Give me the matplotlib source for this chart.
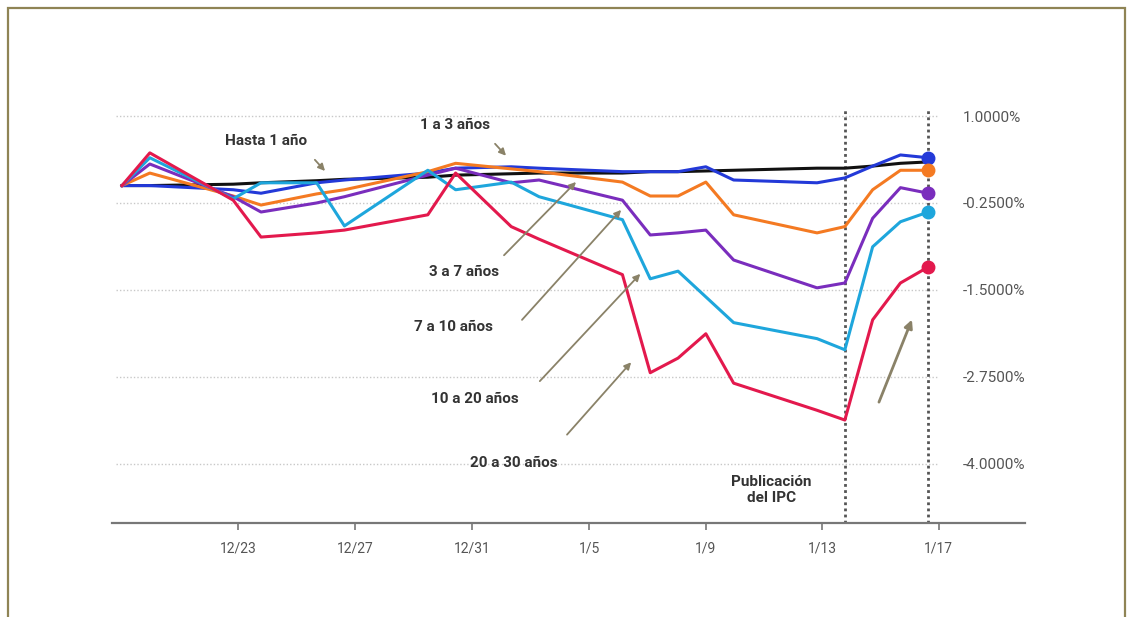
import matplotlib.pyplot as plt
import matplotlib.patches as patches

# dias habiles contados desde 12/19
dias = [0, 1, 4, 5, 7, 8, 11, 12, 14, 15, 18, 19, 20, 21, 22, 25, 26, 27, 28, 29]

hasta_1 = [0.0, 0.0, 0.02, 0.04, 0.07, 0.09, 0.12, 0.15, 0.17, 0.18,
           0.18, 0.20, 0.20, 0.21, 0.22, 0.25, 0.25, 0.28, 0.32, 0.34]
de_1_a_3 = [0.0, 0.0, -0.06, -0.11, 0.04, 0.08, 0.18, 0.25, 0.27, 0.25,
            0.20, 0.20, 0.20, 0.27, 0.08, 0.04, 0.11, 0.28, 0.44, 0.40]
de_3_a_7 = [0.0, 0.18, -0.15, -0.28, -0.12, -0.06, 0.20, 0.32, 0.24, 0.20,
            0.05, -0.15, -0.15, 0.05, -0.42, -0.68, -0.59, -0.06, 0.22, 0.22]
de_7_a_10 = [0.0, 0.31, -0.16, -0.38, -0.25, -0.16, 0.15, 0.25, 0.04, 0.08,
             -0.21, -0.71, -0.68, -0.64, -1.07, -1.47, -1.40, -0.47, -0.03, -0.11]
de_10_a_20 = [0.0, 0.40, -0.19, 0.04, 0.04, -0.58, 0.22, -0.06, 0.05, -0.16,
              -0.49, -1.34, -1.23, -1.60, -1.97, -2.20, -2.36, -0.88, -0.52, -0.38]
de_20_a_30 = [0.0, 0.47, -0.21, -0.74, -0.68, -0.64, -0.42, 0.18, -0.59, -0.77,
              -1.28, -2.69, -2.48, -2.13, -2.84, -3.23, -3.37, -1.93, -1.40, -1.17]

series = [hasta_1, de_1_a_3, de_3_a_7, de_7_a_10, de_10_a_20, de_20_a_30]
colores = ['#111111', '#2339d8', '#f47a22', '#7a2dbd', '#1ea6dc', '#e3194d']
con_punto = [False, True, True, True, True, True]

xtick_pos = [4.17, 8.38, 12.59, 16.8, 21.0, 25.18, 29.38]
xtick_lbl = ['12/23', '12/27', '12/31', '1/5', '1/9', '1/13', '1/17']
ytick_pos = [1.0, -0.25, -1.5, -2.75, -4.0]
ytick_lbl = ['1.0000%', '-0.2500%', '-1.5000%', '-2.7500%', '-4.0000%']

# etiquetas: texto, posicion del texto, cola y punta de la flecha
etiquetas = [
    ('Hasta 1 año', (5.18, 0.64), (6.87, 0.40), (7.37, 0.18)),
    ('1 a 3 años', (11.98, 0.87), (13.35, 0.63), (13.88, 0.40)),
    ('3 a 7 años', (12.30, -1.24), (13.67, -1.03), (16.40, 0.08)),
    ('7 a 10 años', (11.91, -2.03), (14.32, -1.96), (18.02, -0.32)),
    ('10 a 20 años', (12.70, -3.07), (14.96, -2.84), (18.71, -1.24)),
    ('20 a 30 años', (14.10, -3.99), (15.94, -3.61), (18.38, -2.51)),
]
flecha_final = ((27.19, -3.15), (28.45, -1.89))
dia_ipc = 26
dia_ultimo = 29

plt.rcParams['font.family'] = ['Roboto', 'DejaVu Sans']

fig = plt.figure(figsize=(11.33, 6.17), dpi=100)
ax = fig.add_axes([112 / 1133, 1 - 523 / 617, 913 / 1133, 423 / 617])

ax.set_xlim(-0.36, 32.48)
ax.set_ylim(-4.85, 1.23)

# rejilla punteada
ax.hlines(ytick_pos, -0.2, 29.3, colors='#c8c8c8', linestyles=(0, (1, 1.5)), lw=1.0, zorder=1)

# lineas verticales
ax.vlines([dia_ipc, dia_ultimo], -4.85, 1.11, colors='#555555', linestyles=(0, (1, 1.2)), lw=2.0, zorder=2)

for vals, c, punto in zip(series, colores, con_punto):
    ax.plot(dias, vals, color=c, lw=2.2, zorder=3)
    if punto:
        ax.plot(dias[-1], vals[-1], 'o', color=c, ms=9, zorder=4)

for txt, pos, cola, punta in etiquetas:
    ax.text(pos[0], pos[1], txt, ha='center', va='center', fontsize=11,
            fontweight='bold', color='#333333')
    ax.annotate('', xy=punta, xytext=cola,
                arrowprops=dict(arrowstyle='-|>', color='#8a8268', lw=1.3, mutation_scale=10))
ax.annotate('', xy=flecha_final[1], xytext=flecha_final[0],
            arrowprops=dict(arrowstyle='-|>', color='#8a8268', lw=2.0, mutation_scale=12))

ax.text(23.35, -4.37, 'Publicación\ndel IPC', ha='center', va='center', fontsize=11,
        fontweight='bold', color='#333333', linespacing=1.2)

for s in ['top', 'right', 'left']:
    ax.spines[s].set_visible(False)
ax.spines['bottom'].set_color('#777777')
ax.spines['bottom'].set_linewidth(1.6)

ax.set_xticks(xtick_pos)
ax.set_xticklabels(xtick_lbl)
ax.tick_params(axis='x', colors='#777777', length=5, width=1.2, labelsize=10, pad=8)
for t in ax.get_xticklabels():
    t.set_color('#555555')

ax.yaxis.tick_right()
ax.set_yticks(ytick_pos)
ax.set_yticklabels(ytick_lbl)
ax.tick_params(axis='y', length=0, pad=-45, labelsize=11, labelcolor='#555555')

# marco
fig.patches.append(patches.Rectangle((8 / 1133, -0.02), 1117 / 1133, 1 - 8 / 617 + 0.02,
                                     transform=fig.transFigure, fill=False,
                                     edgecolor='#8f8455', lw=1.6))

fig.savefig('out.png', dpi=100)
